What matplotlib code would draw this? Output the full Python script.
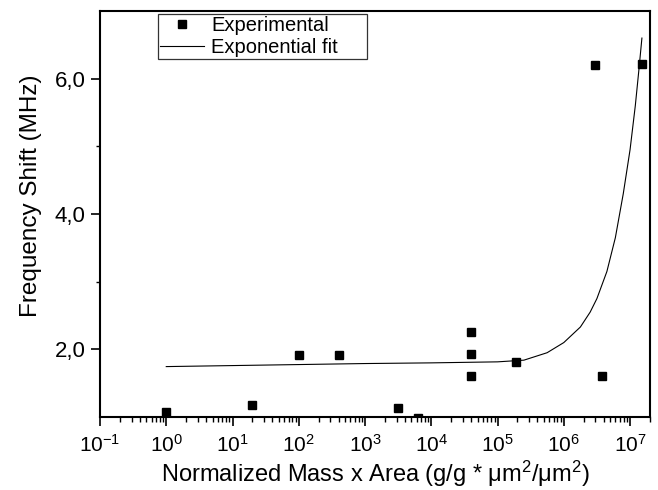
import matplotlib
matplotlib.use("Agg")
import matplotlib.pyplot as plt
from matplotlib.ticker import FixedLocator, LogLocator, NullFormatter

# ---- data ----
exp_x = [1, 20, 100, 400, 3200, 6300, 4e4, 4e4, 4e4, 1.9e5, 3.0e6, 3.8e6, 1.5e7]
exp_y = [1.07, 1.18, 1.91, 1.91, 1.14, 0.99, 2.25, 1.93, 1.61, 1.81, 6.20, 1.60, 6.22]

fit_x = [1, 10, 100, 1e3, 1e4, 1e5, 2.5e5, 5.6e5, 1.0e6, 1.78e6, 2.5e6, 3.16e6,
         4.47e6, 6.0e6, 7.9e6, 1.0e7, 1.2e7, 1.35e7, 1.51e7]
fit_y = [1.745, 1.76, 1.775, 1.79, 1.80, 1.815, 1.84, 1.95, 2.10, 2.33, 2.55, 2.75,
         3.15, 3.65, 4.30, 4.95, 5.60, 6.10, 6.60]

x_exponents = [-1, 0, 1, 2, 3, 4, 5, 6, 7]
x_tick_labels = [r"$10^{%d}$" % e for e in x_exponents]
y_ticks = [2, 4, 6]
y_tick_labels = ["2,0", "4,0", "6,0"]
y_minor = [3, 5]

plt.rcParams["font.family"] = ["Liberation Sans", "DejaVu Sans"]
plt.rcParams["mathtext.default"] = "regular"
plt.rcParams["axes.unicode_minus"] = False

fig = plt.figure(figsize=(6.58, 4.90), dpi=100)
ax = fig.add_axes([100 / 658, 1 - 417 / 490, 550 / 658, 406 / 490])

ax.plot(fit_x, fit_y, color="black", lw=0.8, label="Exponential fit", zorder=2)
ax.plot(exp_x, exp_y, "s", color="black", ms=6, ls="none", label="Experimental", zorder=3)

ax.set_xscale("log")
ax.set_xlim(0.1, 2e7)
ax.set_ylim(1.0, 7.0)

ax.xaxis.set_major_locator(FixedLocator([10.0 ** e for e in x_exponents]))
ax.set_xticklabels(x_tick_labels)
ax.xaxis.set_minor_locator(LogLocator(base=10, subs=range(2, 10), numticks=50))
ax.xaxis.set_minor_formatter(NullFormatter())

ax.set_yticks(y_ticks)
ax.set_yticklabels(y_tick_labels)
ax.set_yticks(y_minor, minor=True)

for s in ax.spines.values():
    s.set_linewidth(1.5)

ax.tick_params(axis="both", which="major", direction="out", length=6.3, width=1.2,
               colors="black")
ax.tick_params(axis="x", which="minor", direction="out", length=3.5, width=1.0)
ax.tick_params(axis="y", which="minor", direction="out", length=3, width=1.0)
ax.tick_params(axis="x", which="major", pad=6, labelsize=15)
ax.tick_params(axis="y", which="major", pad=4, labelsize=16)

ax.set_xlabel(r"Normalized Mass x Area (g/g * μm$^2$/μm$^2$)", fontsize=17)
ax.set_ylabel("Frequency Shift (MHz)", fontsize=17.5)
ax.xaxis.set_label_coords(0.5, -0.104)
ax.yaxis.set_label_coords(-0.105, 0.544)

handles, labels = ax.get_legend_handles_labels()
order = [1, 0]
leg = ax.legend([handles[i] for i in order], [labels[i] for i in order],
                loc="upper left", bbox_to_anchor=(0.105, 0.867, 0.38, 0.126),
                mode="expand", borderaxespad=0, fontsize=14.5, frameon=True,
                fancybox=False, handlelength=2.2, handletextpad=0.35,
                labelspacing=0.18, borderpad=0.1, markerscale=1.0)
leg.get_frame().set_edgecolor("black")
leg.get_frame().set_linewidth(0.9)

fig.savefig("out.png", dpi=100)
